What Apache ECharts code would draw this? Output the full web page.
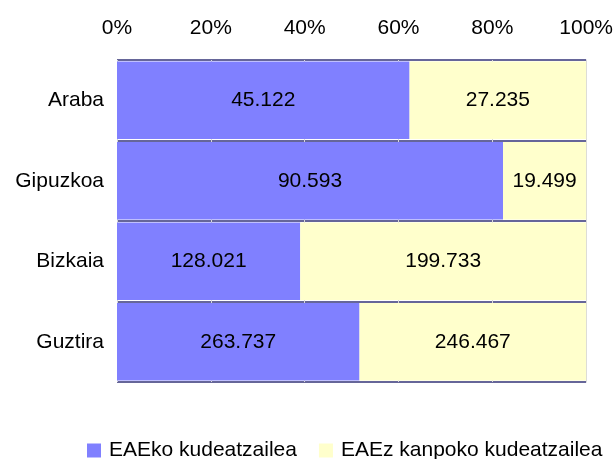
<!DOCTYPE html>
<html>
<head>
<meta charset="utf-8">
<script src="https://cdn.jsdelivr.net/npm/echarts@6/dist/echarts.min.js"></script>
<style>
  html, body { margin: 0; padding: 0; background: #fff; }
  #chart { width: 616px; height: 459px; }
</style>
</head>
<body>
<div id="chart"></div>
<script>
let categories = ['Araba', 'Gipuzkoa', 'Bizkaia', 'Guztira'];
let seriesNames = ['EAEko kudeatzailea', 'EAEz kanpoko kudeatzailea'];
let barruko = [45122, 90593, 128021, 263737];
let kanpoko = [27235, 19499, 199733, 246467];
let tickLabels = ['0%', '20%', '40%', '60%', '80%', '100%'];

// zenbakiak puntuarekin (45.122)
function formatNum(n) {
    return String(n).replace(/\B(?=(\d{3})+(?!\d))/g, '.');
}

function toPercent(values, others) {
    return values.map((v, i) => ({ value: v / (v + others[i]) * 100, raw: v }));
}

let chart = echarts.init(document.getElementById('chart'));
let font = 'Liberation Sans, Arial, sans-serif';

let option = {
    animation: false,
    textStyle: { fontFamily: font },
    grid: { left: 117, right: 29, top: 60, bottom: 77 },
    xAxis: {
        type: 'value',
        position: 'top',
        min: 0,
        max: 100,
        interval: 20,
        axisLine: { show: false },
        axisTick: { show: false },
        axisLabel: {
            margin: 21,
            fontSize: 21,
            color: '#000',
            formatter: (v) => tickLabels[Math.round(v / 20)]
        },
        splitLine: { show: true, lineStyle: { color: '#d8d8d8', width: 1 } }
    },
    yAxis: {
        type: 'category',
        inverse: true,
        data: categories,
        axisLine: { show: false },
        axisTick: { show: false },
        axisLabel: { margin: 13, fontSize: 21, color: '#000' },
        splitLine: { show: true, lineStyle: { color: '#666699', width: 2 } }
    },
    legend: {
        top: 435,
        left: 82,
        itemWidth: 14,
        itemHeight: 14,
        itemGap: 22,
        icon: 'rect',
        textStyle: { fontSize: 21, color: '#000', fontFamily: font, padding: [0, 0, 0, 3] },
        data: seriesNames
    },
    series: [
        {
            name: seriesNames[0],
            type: 'bar',
            stack: 'total',
            barCategoryGap: '4%',
            itemStyle: { color: '#8080ff' },
            label: {
                show: true,
                position: 'inside',
                fontSize: 21,
                color: '#000',
                formatter: (p) => formatNum(p.data.raw)
            },
            data: toPercent(barruko, kanpoko)
        },
        {
            name: seriesNames[1],
            type: 'bar',
            stack: 'total',
            barCategoryGap: '4%',
            itemStyle: { color: '#ffffcc' },
            label: {
                show: true,
                position: 'inside',
                fontSize: 21,
                color: '#000',
                formatter: (p) => formatNum(p.data.raw)
            },
            data: toPercent(kanpoko, barruko)
        }
    ]
};
chart.setOption(option);
</script>
</body>
</html>
